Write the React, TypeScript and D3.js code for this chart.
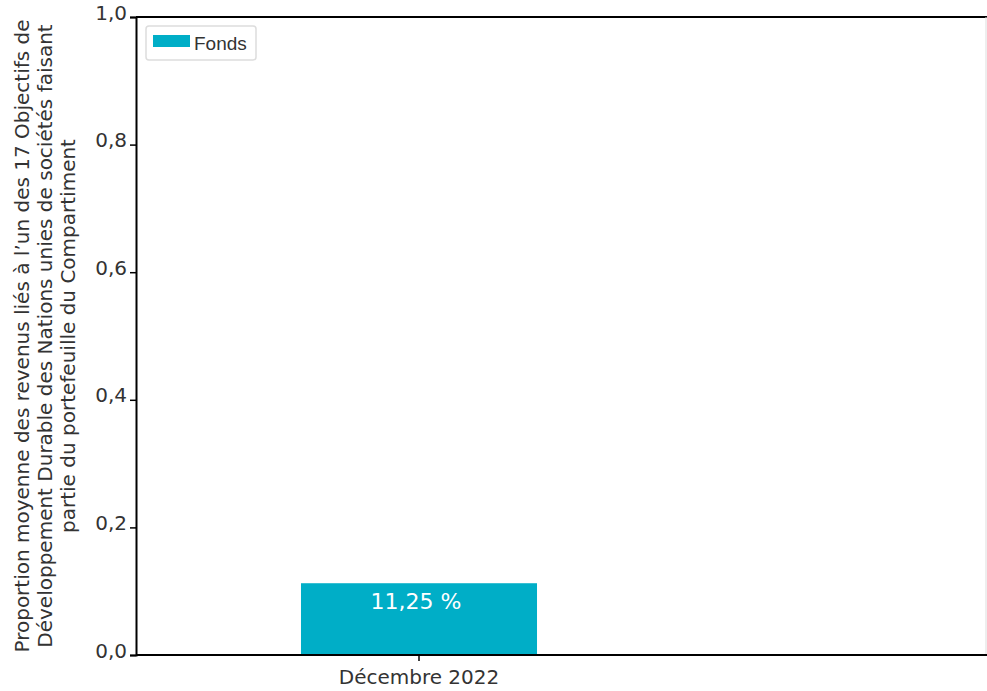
import React, {useEffect, useRef} from "react";
import * as d3 from "d3";

const categories = ["Décembre 2022"];
const fondsValues = [0.1125];
const valueLabels = ["11,25 %"];
const yTicks = [0, 0.2, 0.4, 0.6, 0.8, 1.0];
const seriesName = "Fonds";
const titleLines = [
    "Proportion moyenne des revenus liés à l\u2019un des 17 Objectifs de",
    "Développement Durable des Nations unies de sociétés faisant",
    "partie du portefeuille du Compartiment",
];

const W = 987;
const H = 691;
const margin = {top: 17, right: 0, bottom: 36, left: 136};
const FONT = "Verdana, 'DejaVu Sans', sans-serif";

const App = () => {
    const svgRef = useRef(null);

    useEffect(() => {
        const svg = d3.select(svgRef.current);
        svg.selectAll("*").remove();

        const innerBottom = H - margin.bottom;
        // the category band only takes the left part of the plot
        const x = d3.scaleBand()
            .domain(categories)
            .range([margin.left, 702])
            .paddingInner(0.583)
            .paddingOuter(0.2915);
        const y = d3.scaleLinear().domain([0, 1]).range([innerBottom, margin.top]);

        // frame
        svg.append("line")
            .attr("x1", margin.left).attr("x2", W)
            .attr("y1", margin.top).attr("y2", margin.top)
            .attr("stroke", "#000").attr("stroke-width", 2);
        svg.append("line")
            .attr("x1", W - 1).attr("x2", W - 1)
            .attr("y1", margin.top).attr("y2", innerBottom)
            .attr("stroke", "#ddd").attr("stroke-width", 1);

        // bars
        svg.selectAll(".bar")
            .data(fondsValues)
            .join("rect")
            .attr("class", "bar")
            .attr("x", (d, i) => x(categories[i]) as number)
            .attr("width", x.bandwidth())
            .attr("y", d => y(d))
            .attr("height", d => innerBottom - y(d))
            .attr("fill", "#00aec7");

        svg.selectAll(".val")
            .data(fondsValues)
            .join("text")
            .attr("class", "val")
            .attr("x", (d, i) => (x(categories[i]) as number) + x.bandwidth() / 2 - 3)
            .attr("y", d => y(d) + 26)
            .attr("text-anchor", "middle")
            .attr("fill", "#fff")
            .style("font-family", FONT)
            .style("font-size", "22px")
            .text((d, i) => valueLabels[i]);

        // y axis
        const yAxis = d3.axisLeft(y)
            .tickValues(yTicks)
            .tickSize(6)
            .tickFormat(d => d3.format(".1f")(d as number).replace(".", ","));
        const gy = svg.append("g")
            .attr("transform", `translate(${margin.left},0)`)
            .call(yAxis);
        gy.select(".domain").attr("stroke-width", 2);
        gy.selectAll(".tick line").attr("stroke-width", 1.5);
        gy.selectAll(".tick text")
            .attr("fill", "#333")
            .attr("dy", "0.1em")
            .style("font-family", FONT)
            .style("font-size", "20px");

        // x axis
        const xAxis = d3.axisBottom(x).tickSizeInner(6).tickSizeOuter(0);
        const gx = svg.append("g")
            .attr("transform", `translate(0,${innerBottom})`)
            .call(xAxis);
        gx.select(".domain").attr("d", `M${margin.left},0H${W}`).attr("stroke-width", 2);
        gx.selectAll(".tick line").attr("stroke-width", 1.5);
        gx.selectAll(".tick text")
            .attr("fill", "#333")
            .attr("dy", "1em")
            .style("font-family", FONT)
            .style("font-size", "20px");

        // y title
        const cy = (margin.top + innerBottom) / 2;
        svg.append("text")
            .attr("transform", `translate(29,${cy}) rotate(-90)`)
            .attr("text-anchor", "middle")
            .attr("fill", "#333")
            .style("font-family", FONT)
            .style("font-size", "20px")
            .selectAll("tspan")
            .data(titleLines)
            .join("tspan")
            .attr("x", 0)
            .attr("dy", (d, i) => (i === 0 ? 0 : 23))
            .text(d => d);

        // legend
        const lg = svg.append("g").attr("transform", "translate(146,26)");
        lg.append("rect")
            .attr("width", 110).attr("height", 34).attr("rx", 3)
            .attr("fill", "#fff").attr("stroke", "#ddd").attr("stroke-width", 1.5);
        lg.append("rect")
            .attr("x", 7).attr("y", 9).attr("width", 37).attr("height", 12)
            .attr("fill", "#00aec7");
        lg.append("text")
            .attr("x", 48).attr("y", 24)
            .attr("fill", "#333")
            .style("font-family", "'Liberation Sans', Arial, sans-serif")
            .style("font-size", "19px")
            .text(seriesName);
    }, []);

    return (
        <svg ref={svgRef} width={W} height={H} style={{display: "block", position: "absolute", left: 0, top: 0}}/>
    );
};

export default App;
